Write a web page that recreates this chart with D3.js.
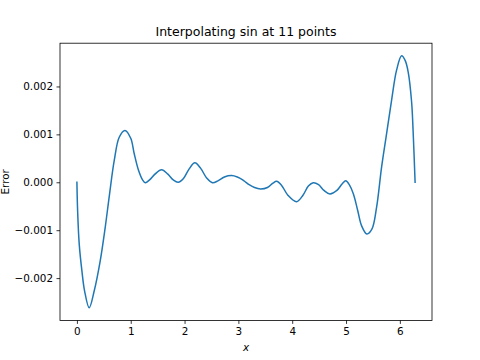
<!DOCTYPE html>
<html>
<head>
<meta charset="utf-8">
<script src="https://cdn.jsdelivr.net/npm/d3@7"></script>
<style>
  html, body { margin: 0; padding: 0; background: #fff; }
  svg { display: block; }
  text { font-family: "DejaVu Sans", sans-serif; fill: #000; }
</style>
</head>
<body>
<svg id="chart" width="480" height="360"></svg>
<script>
// x positions of the traced curve
const xs = [0, 0.013, 0.043, 0.093, 0.143, 0.228, 0.321, 0.433, 0.526, 0.607, 0.693, 0.786, 0.892,
  1.0, 1.064, 1.146, 1.22, 1.27, 1.35, 1.45, 1.573, 1.69, 1.79, 1.882,
  1.98, 2.08, 2.192, 2.30, 2.41, 2.52, 2.62, 2.74, 2.874, 2.98, 3.08, 3.14,
  3.20, 3.30, 3.41, 3.54, 3.64, 3.71, 3.80, 3.92, 4.081, 4.20, 4.30, 4.39,
  4.49, 4.59, 4.70, 4.83, 4.93, 4.995, 5.06, 5.137, 5.219, 5.29, 5.387, 5.48,
  5.568, 5.660, 5.753, 5.846, 5.939, 6.032, 6.10, 6.155, 6.218, 6.247, 6.283];
// error values
const errs = [0, -0.00059, -0.00129, -0.00185, -0.00227, -0.00262, -0.00227, -0.00164, -0.00094, -0.00024, 0.00045, 0.00094, 0.001083,
  0.00092, 0.0006, 0.000245, 0.00005, -0.00001, 0.00005, 0.00017, 0.00026, 0.00017, 0.00005, 0.0,
  0.00008, 0.00027, 0.000406, 0.00029, 0.00009, -0.00001, 0.00003, 0.00011, 0.00014, 0.00011, 0.00005, 0.0,
  -0.00005, -0.00011, -0.00014, -0.00011, -0.00002, 0.00002, -0.00006, -0.00027, -0.000404, -0.00027, -0.00008, -0.00001,
  -0.00005, -0.00017, -0.000243, -0.00017, -0.00003, 0.00003, -0.00005, -0.000245, -0.0006, -0.00091, -0.00108, -0.00098,
  -0.00052, 0.00031, 0.00101, 0.00171, 0.00234, 0.00264, 0.00254, 0.00230, 0.00168, 0.00105, 0];

const xTicks = [0, 1, 2, 3, 4, 5, 6];
const yTicks = [-0.002, -0.001, 0.0, 0.001, 0.002];
const titleText = "Interpolating sin at 11 points";
const xLabel = "x";
const yLabel = "Error";

const W = 480, H = 360;
const m = { left: 60, right: 48, top: 43.2, bottom: 39.6 };
const iw = W - m.left - m.right, ih = H - m.top - m.bottom;

const xMin = d3.min(xs), xMax = d3.max(xs);
const yMin = d3.min(errs), yMax = d3.max(errs);
const xPad = (xMax - xMin) * 0.05, yPad = (yMax - yMin) * 0.05;

const x = d3.scaleLinear().domain([xMin - xPad, xMax + xPad]).range([0, iw]);
const y = d3.scaleLinear().domain([yMin - yPad, yMax + yPad]).range([ih, 0]);

const svg = d3.select("#chart");
const g = svg.append("g").attr("transform", `translate(${m.left},${m.top})`);

const data = xs.map((d, i) => ({ x: d, y: errs[i] }));

const fmtY = v => (v < 0 ? "\u2212" : "") + Math.abs(v).toFixed(3);

const xAxis = g.append("g").attr("transform", `translate(0,${ih})`)
  .call(d3.axisBottom(x).tickValues(xTicks).tickFormat(d3.format("d")).tickSize(3.5).tickPadding(3.5));
const yAxis = g.append("g")
  .call(d3.axisLeft(y).tickValues(yTicks).tickFormat(fmtY).tickSize(3.5).tickPadding(3.5));

[xAxis, yAxis].forEach(a => {
  a.select(".domain").remove();
  a.selectAll("line").attr("stroke", "#000").attr("stroke-width", 0.8);
  a.selectAll("text").style("font-family", "DejaVu Sans, sans-serif").style("font-size", "10.4px").attr("fill", "#000");
});

const line = d3.line().x(d => x(d.x)).y(d => y(d.y)).curve(d3.curveCatmullRom.alpha(0.5));
g.append("path").datum(data)
  .attr("fill", "none").attr("stroke", "#1f77b4").attr("stroke-width", 1.5)
  .attr("stroke-linejoin", "round").attr("stroke-linecap", "square")
  .attr("d", line);

g.append("rect").attr("x", 0).attr("y", 0).attr("width", iw).attr("height", ih)
  .attr("fill", "none").attr("stroke", "#000").attr("stroke-width", 0.8);

svg.append("text").attr("x", m.left + iw / 2).attr("y", m.top - 7)
  .attr("text-anchor", "middle").style("font-size", "12.5px").text(titleText);

svg.append("text").attr("x", m.left + iw / 2).attr("y", H - 9.5)
  .attr("text-anchor", "middle").style("font-size", "10.4px").style("font-style", "italic").text(xLabel);

svg.append("text").attr("transform", `translate(9,${m.top + ih / 2}) rotate(-90)`)
  .attr("text-anchor", "middle").style("font-size", "10.4px").text(yLabel);
</script>
</body>
</html>
